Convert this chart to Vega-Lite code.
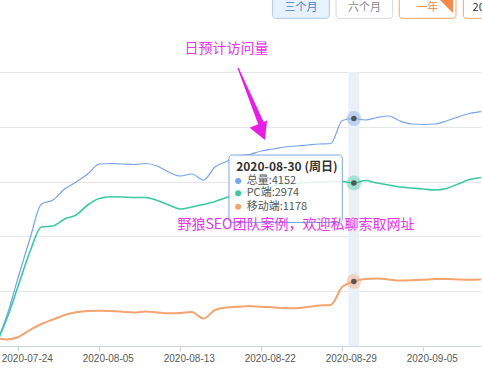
{
  "$schema": "https://vega.github.io/schema/vega-lite/v6.json",
  "width": 482,
  "height": 346,
  "autosize": {"type": "none"},
  "padding": {"left": 0, "top": 0, "right": 0, "bottom": 28},
  "background": "white",
  "config": {"view": {"stroke": null}, "font": "Noto Sans CJK SC"},
  "datasets": {
    "s": [
      {"date":"2020-07-22","series":"总量","value":0},{"date":"2020-07-23","series":"总量","value":547},{"date":"2020-07-24","series":"总量","value":1259},{"date":"2020-07-25","series":"总量","value":1953},{"date":"2020-07-27","series":"总量","value":2591},{"date":"2020-07-29","series":"总量","value":2664},{"date":"2020-07-31","series":"总量","value":2865},{"date":"2020-08-02","series":"总量","value":2993},{"date":"2020-08-03","series":"总量","value":3139},{"date":"2020-08-05","series":"总量","value":3321},{"date":"2020-08-06","series":"总量","value":3330},{"date":"2020-08-07","series":"总量","value":3321},{"date":"2020-08-08","series":"总量","value":3312},{"date":"2020-08-10","series":"总量","value":3330},{"date":"2020-08-11","series":"总量","value":3285},{"date":"2020-08-12","series":"总量","value":3175},{"date":"2020-08-13","series":"总量","value":3102},{"date":"2020-08-14","series":"总量","value":3139},{"date":"2020-08-15","series":"总量","value":3029},{"date":"2020-08-17","series":"总量","value":3266},{"date":"2020-08-18","series":"总量","value":3367},{"date":"2020-08-20","series":"总量","value":3467},{"date":"2020-08-21","series":"总量","value":3495},{"date":"2020-08-22","series":"总量","value":3558},{"date":"2020-08-23","series":"总量","value":3595},{"date":"2020-08-24","series":"总量","value":3631},{"date":"2020-08-25","series":"总量","value":3650},{"date":"2020-08-26","series":"总量","value":3668},{"date":"2020-08-27","series":"总量","value":3686},{"date":"2020-08-28","series":"总量","value":3695},{"date":"2020-08-29","series":"总量","value":4115},{"date":"2020-08-30","series":"总量","value":4152},{"date":"2020-08-31","series":"总量","value":4124},{"date":"2020-09-01","series":"总量","value":4170},{"date":"2020-09-02","series":"总量","value":4197},{"date":"2020-09-03","series":"总量","value":4106},{"date":"2020-09-04","series":"总量","value":4051},{"date":"2020-09-05","series":"总量","value":4042},{"date":"2020-09-06","series":"总量","value":4051},{"date":"2020-09-07","series":"总量","value":4106},{"date":"2020-09-08","series":"总量","value":4179},{"date":"2020-09-09","series":"总量","value":4243},{"date":"2020-09-10","series":"总量","value":4276},
      {"date":"2020-07-22","series":"PC端","value":0},{"date":"2020-07-23","series":"PC端","value":493},{"date":"2020-07-24","series":"PC端","value":1104},{"date":"2020-07-25","series":"PC端","value":1715},{"date":"2020-07-27","series":"PC端","value":2172},{"date":"2020-07-29","series":"PC端","value":2190},{"date":"2020-07-31","series":"PC端","value":2318},{"date":"2020-08-02","series":"PC端","value":2391},{"date":"2020-08-03","series":"PC端","value":2573},{"date":"2020-08-05","series":"PC端","value":2692},{"date":"2020-08-06","series":"PC端","value":2724},{"date":"2020-08-07","series":"PC端","value":2719},{"date":"2020-08-08","series":"PC端","value":2710},{"date":"2020-08-10","series":"PC端","value":2710},{"date":"2020-08-11","series":"PC端","value":2655},{"date":"2020-08-12","series":"PC端","value":2573},{"date":"2020-08-13","series":"PC端","value":2500},{"date":"2020-08-14","series":"PC端","value":2536},{"date":"2020-08-15","series":"PC端","value":2582},{"date":"2020-08-17","series":"PC端","value":2637},{"date":"2020-08-18","series":"PC端","value":2710},{"date":"2020-08-20","series":"PC端","value":2774},{"date":"2020-08-21","series":"PC端","value":2828},{"date":"2020-08-22","series":"PC端","value":2883},{"date":"2020-08-23","series":"PC端","value":2920},{"date":"2020-08-24","series":"PC端","value":2947},{"date":"2020-08-25","series":"PC端","value":2965},{"date":"2020-08-26","series":"PC端","value":2984},{"date":"2020-08-27","series":"PC端","value":2993},{"date":"2020-08-28","series":"PC端","value":3002},{"date":"2020-08-29","series":"PC端","value":3002},{"date":"2020-08-30","series":"PC端","value":2974},{"date":"2020-08-31","series":"PC端","value":3020},{"date":"2020-09-01","series":"PC端","value":2974},{"date":"2020-09-02","series":"PC端","value":2938},{"date":"2020-09-03","series":"PC端","value":2901},{"date":"2020-09-04","series":"PC端","value":2883},{"date":"2020-09-05","series":"PC端","value":2865},{"date":"2020-09-06","series":"PC端","value":2847},{"date":"2020-09-07","series":"PC端","value":2874},{"date":"2020-09-08","series":"PC端","value":2956},{"date":"2020-09-09","series":"PC端","value":3038},{"date":"2020-09-10","series":"PC端","value":3075},
      {"date":"2020-07-22","series":"移动端","value":146},{"date":"2020-07-23","series":"移动端","value":119},{"date":"2020-07-24","series":"移动端","value":164},{"date":"2020-07-25","series":"移动端","value":292},{"date":"2020-07-27","series":"移动端","value":401},{"date":"2020-07-29","series":"移动端","value":484},{"date":"2020-07-31","series":"移动端","value":566},{"date":"2020-08-02","series":"移动端","value":615},{"date":"2020-08-03","series":"移动端","value":639},{"date":"2020-08-05","series":"移动端","value":644},{"date":"2020-08-06","series":"移动端","value":639},{"date":"2020-08-07","series":"移动端","value":626},{"date":"2020-08-08","series":"移动端","value":611},{"date":"2020-08-10","series":"移动端","value":630},{"date":"2020-08-11","series":"移动端","value":611},{"date":"2020-08-12","series":"移动端","value":597},{"date":"2020-08-13","series":"移动端","value":602},{"date":"2020-08-14","series":"移动端","value":620},{"date":"2020-08-15","series":"移动端","value":500},{"date":"2020-08-17","series":"移动端","value":657},{"date":"2020-08-18","series":"移动端","value":703},{"date":"2020-08-20","series":"移动端","value":715},{"date":"2020-08-21","series":"移动端","value":730},{"date":"2020-08-22","series":"移动端","value":715},{"date":"2020-08-23","series":"移动端","value":706},{"date":"2020-08-24","series":"移动端","value":693},{"date":"2020-08-25","series":"移动端","value":688},{"date":"2020-08-26","series":"移动端","value":712},{"date":"2020-08-27","series":"移动端","value":739},{"date":"2020-08-28","series":"移动端","value":748},{"date":"2020-08-29","series":"移动端","value":1080},{"date":"2020-08-30","series":"移动端","value":1178},{"date":"2020-08-31","series":"移动端","value":1222},{"date":"2020-09-01","series":"移动端","value":1232},{"date":"2020-09-02","series":"移动端","value":1215},{"date":"2020-09-03","series":"移动端","value":1195},{"date":"2020-09-04","series":"移动端","value":1200},{"date":"2020-09-05","series":"移动端","value":1210},{"date":"2020-09-06","series":"移动端","value":1222},{"date":"2020-09-07","series":"移动端","value":1222},{"date":"2020-09-08","series":"移动端","value":1215},{"date":"2020-09-09","series":"移动端","value":1210},{"date":"2020-09-10","series":"移动端","value":1215}
    ]
  },
  "encoding": {
    "x": {
      "field": "date", "type": "ordinal",
      "scale": {"type": "point", "range": [-4.84, 481.14], "padding": 0},
      "axis": {
        "title": null,
        "values": ["2020-07-24","2020-08-05","2020-08-13","2020-08-22","2020-08-29","2020-09-05"],
        "labelAngle": 0, "labelAlign": "center", "labelOffset": 8.5, "labelFontSize": 10, "labelFont": "Liberation Sans",
        "labelColor": "#5a5a5a", "tickColor": "#ccd6e6", "domainColor": "#ccd6e6",
        "tickSize": 5, "labelPadding": 2, "grid": false, "labelBound": false, "labelOverlap": false, "labelFlush": false
      }
    }
  },
  "layer": [
    {
      "data": {"values": [{"date": "2020-08-30"}]},
      "mark": {"type": "bar", "width": 11, "color": "#ebf0f8"},
      "encoding": {
        "y": {"datum": 5000, "type": "quantitative", "scale": {"domain": [0, 6314], "nice": false, "zero": true},
              "axis": {"title": null, "values": [1000,2000,3000,4000,5000], "labels": false, "ticks": false, "domain": false, "grid": true, "gridColor": "#e6e6e6"}},
        "y2": {"datum": 0}
      }
    },
    {
      "data": {"name": "s"},
      "mark": {"type": "line", "interpolate": "monotone", "clip": true},
      "encoding": {
        "y": {"field": "value", "type": "quantitative"},
        "color": {"field": "series", "type": "nominal", "scale": {"domain": ["总量","PC端","移动端"], "range": ["#78a4ea","#3cc9a0","#f4a46f"]}, "legend": null},
        "strokeWidth": {"field": "series", "type": "nominal", "scale": {"domain": ["总量","PC端","移动端"], "range": [1.2, 2, 1.2]}, "legend": null}
      }
    },
    {
      "data": {"name": "s"},
      "transform": [{"filter": "datum.date == '2020-08-30'"}],
      "mark": {"type": "circle", "size": 220, "opacity": 0.4},
      "encoding": {"y": {"field": "value", "type": "quantitative"}, "color": {"field": "series", "type": "nominal", "legend": null}}
    },
    {
      "data": {"name": "s"},
      "transform": [{"filter": "datum.date == '2020-08-30'"}],
      "mark": {"type": "circle", "size": 30, "color": "#555555", "opacity": 1},
      "encoding": {"y": {"field": "value", "type": "quantitative"}}
    },
    {
      "data": {"values": [{"date": "2020-08-18", "date2": "2020-08-29"}]},
      "mark": {"type": "rect", "fill": "#ffffff", "fillOpacity": 0.85, "stroke": "#7fa6e0", "strokeWidth": 1, "cornerRadius": 3, "xOffset": 2.4},
      "encoding": {"x2": {"field": "date2"}, "y": {"datum": 3485, "type": "quantitative"}, "y2": {"datum": 2254}}
    },
    {
      "data": {"values": [{"date": "2020-08-20", "value": 3272, "label": "2020-08-30 (周日)"}]},
      "mark": {"type": "text", "align": "left", "baseline": "middle", "dx": -2, "fontSize": 12, "fontWeight": "bold", "color": "#333333"},
      "encoding": {"y": {"field": "value", "type": "quantitative"}, "text": {"field": "label"}}
    },
    {
      "data": {"values": [
        {"date": "2020-08-20", "value": 3011, "series": "总量", "label": "总量:4152"},
        {"date": "2020-08-20", "value": 2786, "series": "PC端", "label": "PC端:2974"},
        {"date": "2020-08-20", "value": 2542, "series": "移动端", "label": "移动端:1178"}
      ]},
      "encoding": {"y": {"field": "value", "type": "quantitative"}},
      "layer": [
        {
          "mark": {"type": "circle", "size": 36, "opacity": 1},
          "encoding": {"color": {"field": "series", "type": "nominal", "legend": null}}
        },
        {
          "mark": {"type": "text", "align": "left", "baseline": "middle", "dx": 8.5, "fontSize": 11, "color": "#555555"},
          "encoding": {"text": {"field": "label"}}
        }
      ]
    },
    {
      "data": {"values": [
        {"date": "2020-08-18", "value": 5423, "label": "日预计访问量"},
        {"date": "2020-08-25", "value": 2208, "label": "野狼SEO团队案例，欢迎私聊索取网址"}
      ]},
      "mark": {"type": "text", "align": "center", "baseline": "middle", "fontSize": 14, "color": "#e635e6"},
      "encoding": {"y": {"field": "value", "type": "quantitative"}, "text": {"field": "label"}}
    },
    {
      "data": {"values": [
        {"date": "2020-08-20", "value": 5068, "part": "start"},
        {"date": "2020-08-22", "value": 4051, "part": "end"}
      ]},
      "mark": {"type": "trail", "color": "#e61ee6"},
      "encoding": {"y": {"field": "value", "type": "quantitative"}, "size": {"field": "part", "type": "ordinal", "scale": {"domain": ["start","end"], "range": [1.2, 6]}, "legend": null}}
    },
    {
      "data": {"values": [{"date": "2020-08-22", "value": 3920}]},
      "mark": {"type": "point", "shape": "M0,1L-1,-0.8L1,-0.8Z", "size": 361, "filled": true, "opacity": 1, "angle": -22.7, "dx": 3.3, "color": "#e61ee6"},
      "encoding": {"y": {"field": "value", "type": "quantitative"}}
    },
    {
      "data": {"values": [{"date": "2020-08-23", "date2": "2020-08-28", "mid": "2020-08-25", "label": "三个月"}]},
      "layer": [
        {"mark": {"type": "rect", "fill": "#e8f2fc", "stroke": "#a9cbee", "strokeWidth": 1, "cornerRadius": 3, "xOffset": -0.2, "x2Offset": -1.4},
         "encoding": {"x2": {"field": "date2"}, "y": {"datum": 6420, "type": "quantitative"}, "y2": {"datum": 5980}}},
        {"mark": {"type": "text", "align": "center", "baseline": "middle", "fontSize": 11, "color": "#4a7fcf", "dx": 5},
         "encoding": {"x": {"field": "mid", "type": "ordinal"}, "y": {"datum": 6165, "type": "quantitative"}, "text": {"field": "label"}}}
      ]
    },
    {
      "data": {"values": [{"date": "2020-08-28", "date2": "2020-09-02", "mid": "2020-08-31", "label": "六个月"}]},
      "layer": [
        {"mark": {"type": "rect", "fill": "#ffffff", "stroke": "#d9d9d9", "strokeWidth": 1, "cornerRadius": 3, "xOffset": 5.3, "x2Offset": 4.1},
         "encoding": {"x2": {"field": "date2"}, "y": {"datum": 6420, "type": "quantitative"}, "y2": {"datum": 5980}}},
        {"mark": {"type": "text", "align": "center", "baseline": "middle", "fontSize": 11, "color": "#888888", "dx": -1},
         "encoding": {"x": {"field": "mid", "type": "ordinal"}, "y": {"datum": 6165, "type": "quantitative"}, "text": {"field": "label"}}}
      ]
    },
    {
      "data": {"values": [{"date": "2020-09-03", "date2": "2020-09-08", "mid": "2020-09-05", "label": "一年"}]},
      "layer": [
        {"mark": {"type": "rect", "fill": "#ffffff", "stroke": "#f6a56c", "strokeWidth": 1, "cornerRadius": 3, "xOffset": -0.9, "x2Offset": -2},
         "encoding": {"x2": {"field": "date2"}, "y": {"datum": 6420, "type": "quantitative"}, "y2": {"datum": 5980}}},
        {"mark": {"type": "text", "align": "center", "baseline": "middle", "fontSize": 11, "color": "#f08c47", "dx": 4},
         "encoding": {"x": {"field": "mid", "type": "ordinal"}, "y": {"datum": 6165, "type": "quantitative"}, "text": {"field": "label"}}}
      ]
    },
    {
      "data": {"values": [{"date": "2020-09-07", "value": 6195}]},
      "mark": {"type": "point", "shape": "M-1,-1L1,-1L1,1Z", "size": 169, "filled": true, "opacity": 1, "dx": 3, "color": "#f5894a"},
      "encoding": {"y": {"field": "value", "type": "quantitative"}}
    },
    {
      "data": {"values": [{"date": "2020-09-08", "date2": "2020-09-10", "mid": "2020-09-09", "label": "2020"}]},
      "layer": [
        {"mark": {"type": "rect", "fill": "#ffffff", "stroke": "#f6a56c", "strokeWidth": 1, "cornerRadius": 3, "xOffset": 5.3, "x2Offset": 10},
         "encoding": {"x2": {"field": "date2"}, "y": {"datum": 6420, "type": "quantitative"}, "y2": {"datum": 5980}}},
        {"mark": {"type": "text", "align": "left", "baseline": "middle", "fontSize": 11, "color": "#333333", "dx": 3},
         "encoding": {"x": {"field": "mid", "type": "ordinal"}, "y": {"datum": 6165, "type": "quantitative"}, "text": {"field": "label"}}}
      ]
    }
  ]
}
